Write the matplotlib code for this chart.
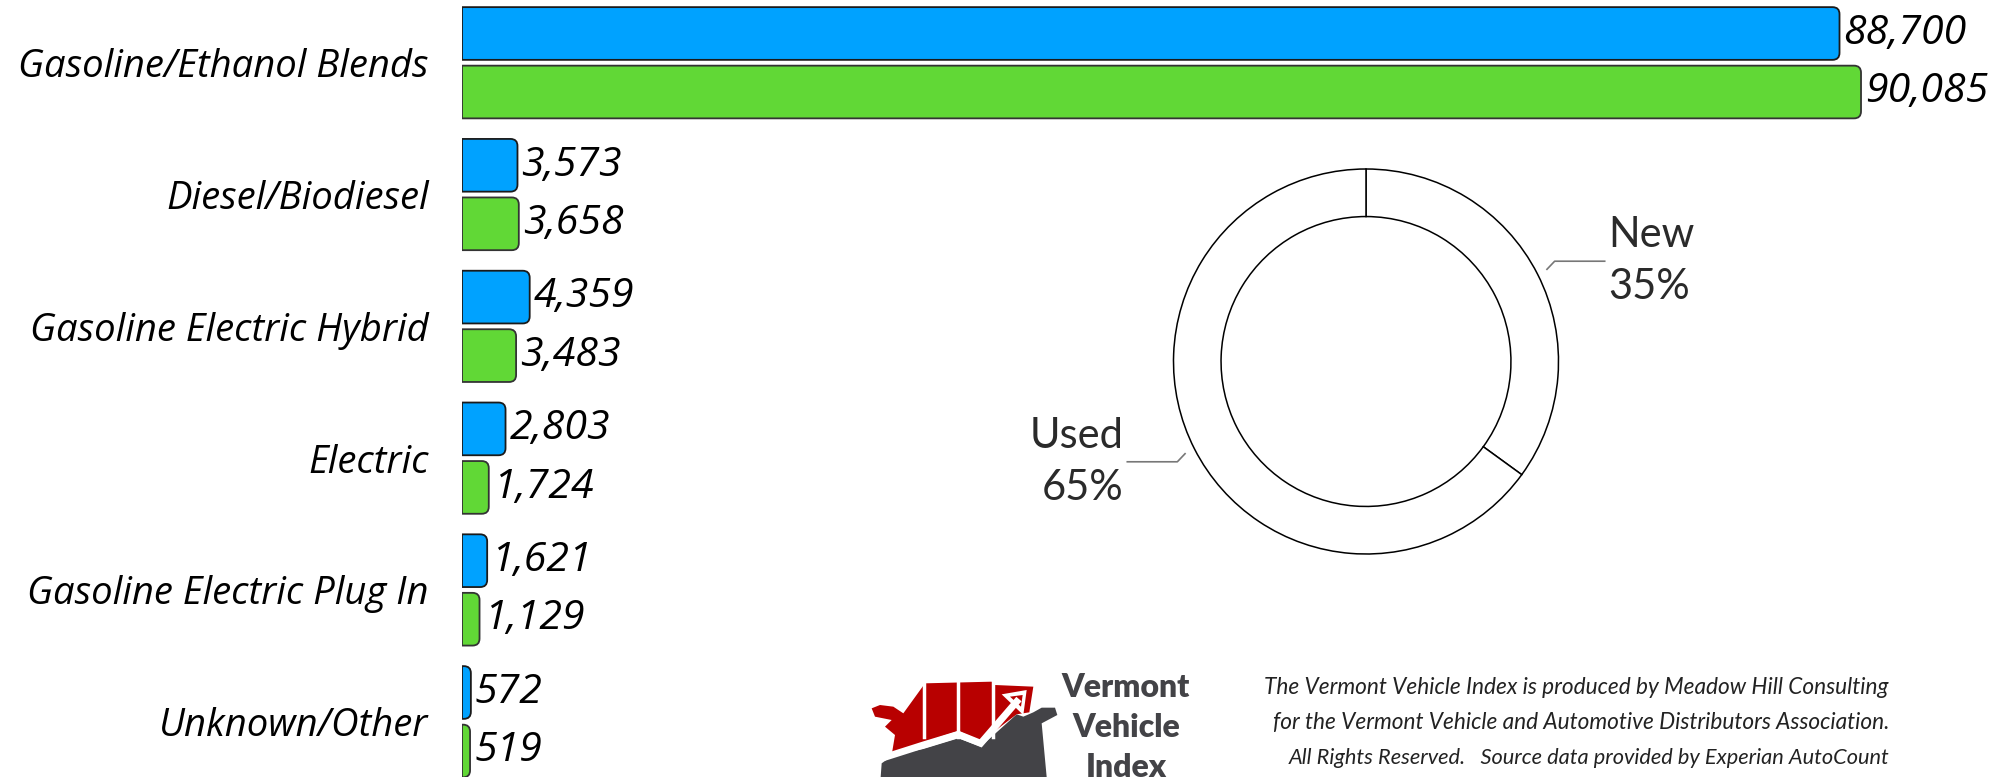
import matplotlib
matplotlib.use("Agg")
import matplotlib.pyplot as plt
from matplotlib.path import Path
from matplotlib.patches import PathPatch, Polygon
import numpy as np

plt.rcParams['font.family'] = ['Open Sans', 'DejaVu Sans']

# data
categories = ["Gasoline/Ethanol Blends", "Diesel/Biodiesel", "Gasoline Electric Hybrid",
              "Electric", "Gasoline Electric Plug In", "Unknown/Other"]
blue_vals = [88700, 3573, 4359, 2803, 1621, 572]
green_vals = [90085, 3658, 3483, 1724, 1129, 519]
donut_labels = ["New", "Used"]
donut_pcts = [35, 65]

footer_lines = ["The Vermont Vehicle Index is produced by Meadow Hill Consulting",
                "for the Vermont Vehicle and Automotive Distributors Association.",
                "All Rights Reserved.   Source data provided by Experian AutoCount"]

W, H = 2015, 777
fig = plt.figure(figsize=(W / 100, H / 100), dpi=100)

BLUE = "#00A2FF"
GREEN = "#61D836"

# ---------------- bars
ax_left_px = 462
ax = fig.add_axes([ax_left_px / W, 0, 1 - ax_left_px / W, 1])
xmax = 100000
pitch = 131.8          # px per group
top_px = 62.75         # centre of first group from the top
ax.set_xlim(0, xmax)
ax.set_ylim((H - top_px) / pitch, -top_px / pitch)

y = np.arange(len(categories))
off, hgt = 0.222, 0.40
bb = ax.barh(y - off, blue_vals, height=hgt, color=BLUE)
gb = ax.barh(y + off, green_vals, height=hgt, color=GREEN)

px_x = (W - ax_left_px) / xmax   # pixels per x unit


def round_right(rect, color, edge):
    x0, y0 = rect.get_x(), rect.get_y()
    w, h = rect.get_width(), rect.get_height()
    rx = min(7 / px_x, w * 0.9)
    ry = 7 / pitch
    x1, y1 = x0 + w, y0 + h
    verts = [(x0, y0), (x1 - rx, y0), (x1, y0), (x1, y0 + ry), (x1, y1 - ry),
             (x1, y1), (x1 - rx, y1), (x0, y1), (x0, y0)]
    codes = [Path.MOVETO, Path.LINETO, Path.CURVE3, Path.CURVE3, Path.LINETO,
             Path.CURVE3, Path.CURVE3, Path.LINETO, Path.CLOSEPOLY]
    rect.set_visible(False)
    ax.add_patch(PathPatch(Path(verts, codes), facecolor=color, edgecolor=edge, lw=1.3))


for r in bb:
    round_right(r, BLUE, "#1a1a1a")
for r in gb:
    round_right(r, GREEN, "#333333")

for vals, shift in ((blue_vals, -off), (green_vals, off)):
    for i, v in enumerate(vals):
        ax.text(v + 4 / px_x, i + shift, f"{v:,}", va="center", ha="left",
                fontsize=29.5, style="italic", color="black")

ax.set_yticks(y)
ax.set_yticklabels(categories, fontsize=27.5, style="italic")
ax.tick_params(axis="y", length=0, pad=24)
ax.set_xticks([])
for s in ax.spines.values():
    s.set_visible(False)

# ---------------- donut
cx, cy, rad = 1366, 361.5, 192.5
dax = fig.add_axes([(cx - rad) / W, (H - cy - rad) / H, 2 * rad / W, 2 * rad / H])
wedges, _ = dax.pie(donut_pcts, startangle=90, counterclock=False, colors=["white", "white"],
                    wedgeprops=dict(width=0.247, edgecolor="black", linewidth=1.1))
dax.set_xlim(-1, 1)
dax.set_ylim(-1, 1)

for wdg, lab, pct in zip(wedges, donut_labels, donut_pcts):
    ang = np.deg2rad((wdg.theta1 + wdg.theta2) / 2)
    sx = np.sign(np.cos(ang))
    p0 = 1.055 * np.array([np.cos(ang), np.sin(ang)])
    p1 = p0 + np.array([sx * 0.04, np.sign(np.sin(ang)) * 0.042])
    p2 = np.array([p1[0] + sx * 0.26, p1[1]])
    dax.plot([p0[0], p1[0], p2[0]], [p0[1], p1[1], p2[1]], color="#777777", lw=1.2,
             clip_on=False)
    dax.text(p2[0] + sx * 0.018, p1[1], f"{lab}\n{pct}%", ha="left" if sx > 0 else "right",
             va="center", multialignment="left" if sx > 0 else "right",
             fontsize=30, family="Lato", linespacing=1.45, color="#2a2a2a")

# ---------------- logo (rough sketch)
lax = fig.add_axes([860 / W, 0, 350 / W, 122 / H])
lax.set_xlim(0, 1050)
lax.set_ylim(366, 0)
lax.axis("off")
red = [(35, 160), (60, 150), (100, 155), (130, 175), (195, 85), (395, 80), (405, 90),
       (520, 95), (508, 172), (470, 178), (365, 258), (295, 228), (190, 262), (95, 300),
       (105, 240), (75, 215), (95, 195), (45, 185)]
lax.add_patch(Polygon(red, closed=True, color="#B80000", lw=0))
for xv in (192, 295, 398):
    lax.plot([xv, xv], [78, 245], color="white", lw=2.5)
gray = [(62, 366), (65, 325), (100, 300), (190, 282), (295, 250), (362, 275), (470, 178),
        (490, 185), (520, 172), (545, 158), (585, 158), (592, 180), (545, 205), (560, 366)]
lax.add_patch(Polygon(gray, closed=True, color="#434347", lw=0))
lax.plot([80, 190, 295, 362, 470], [305, 270, 238, 265, 140], color="white", lw=5,
         solid_joinstyle="miter")
lax.add_patch(Polygon([(425, 118), (500, 105), (490, 180)], closed=True, color="white", lw=0))
lax.add_patch(Polygon([(450, 125), (488, 120), (483, 155)], closed=True, color="#B80000", lw=0))
for i, word in enumerate(["Vermont", "Vehicle", "Index"]):
    lax.text(798, 97 + i * 120, word, ha="center", va="center", fontsize=23,
             family="Lato", fontweight="heavy", color="#434347", clip_on=False)

# ---------------- footer
ys = [687, 723, 758]
sizes = [16.3, 16.3, 15.7]
for line, yy, fs in zip(footer_lines, ys, sizes):
    fig.text(1889 / W, 1 - yy / H, line, ha="right", va="center", fontsize=fs,
             family="Lato", style="italic", color="#222222")

fig.savefig("out.png", dpi=100)
